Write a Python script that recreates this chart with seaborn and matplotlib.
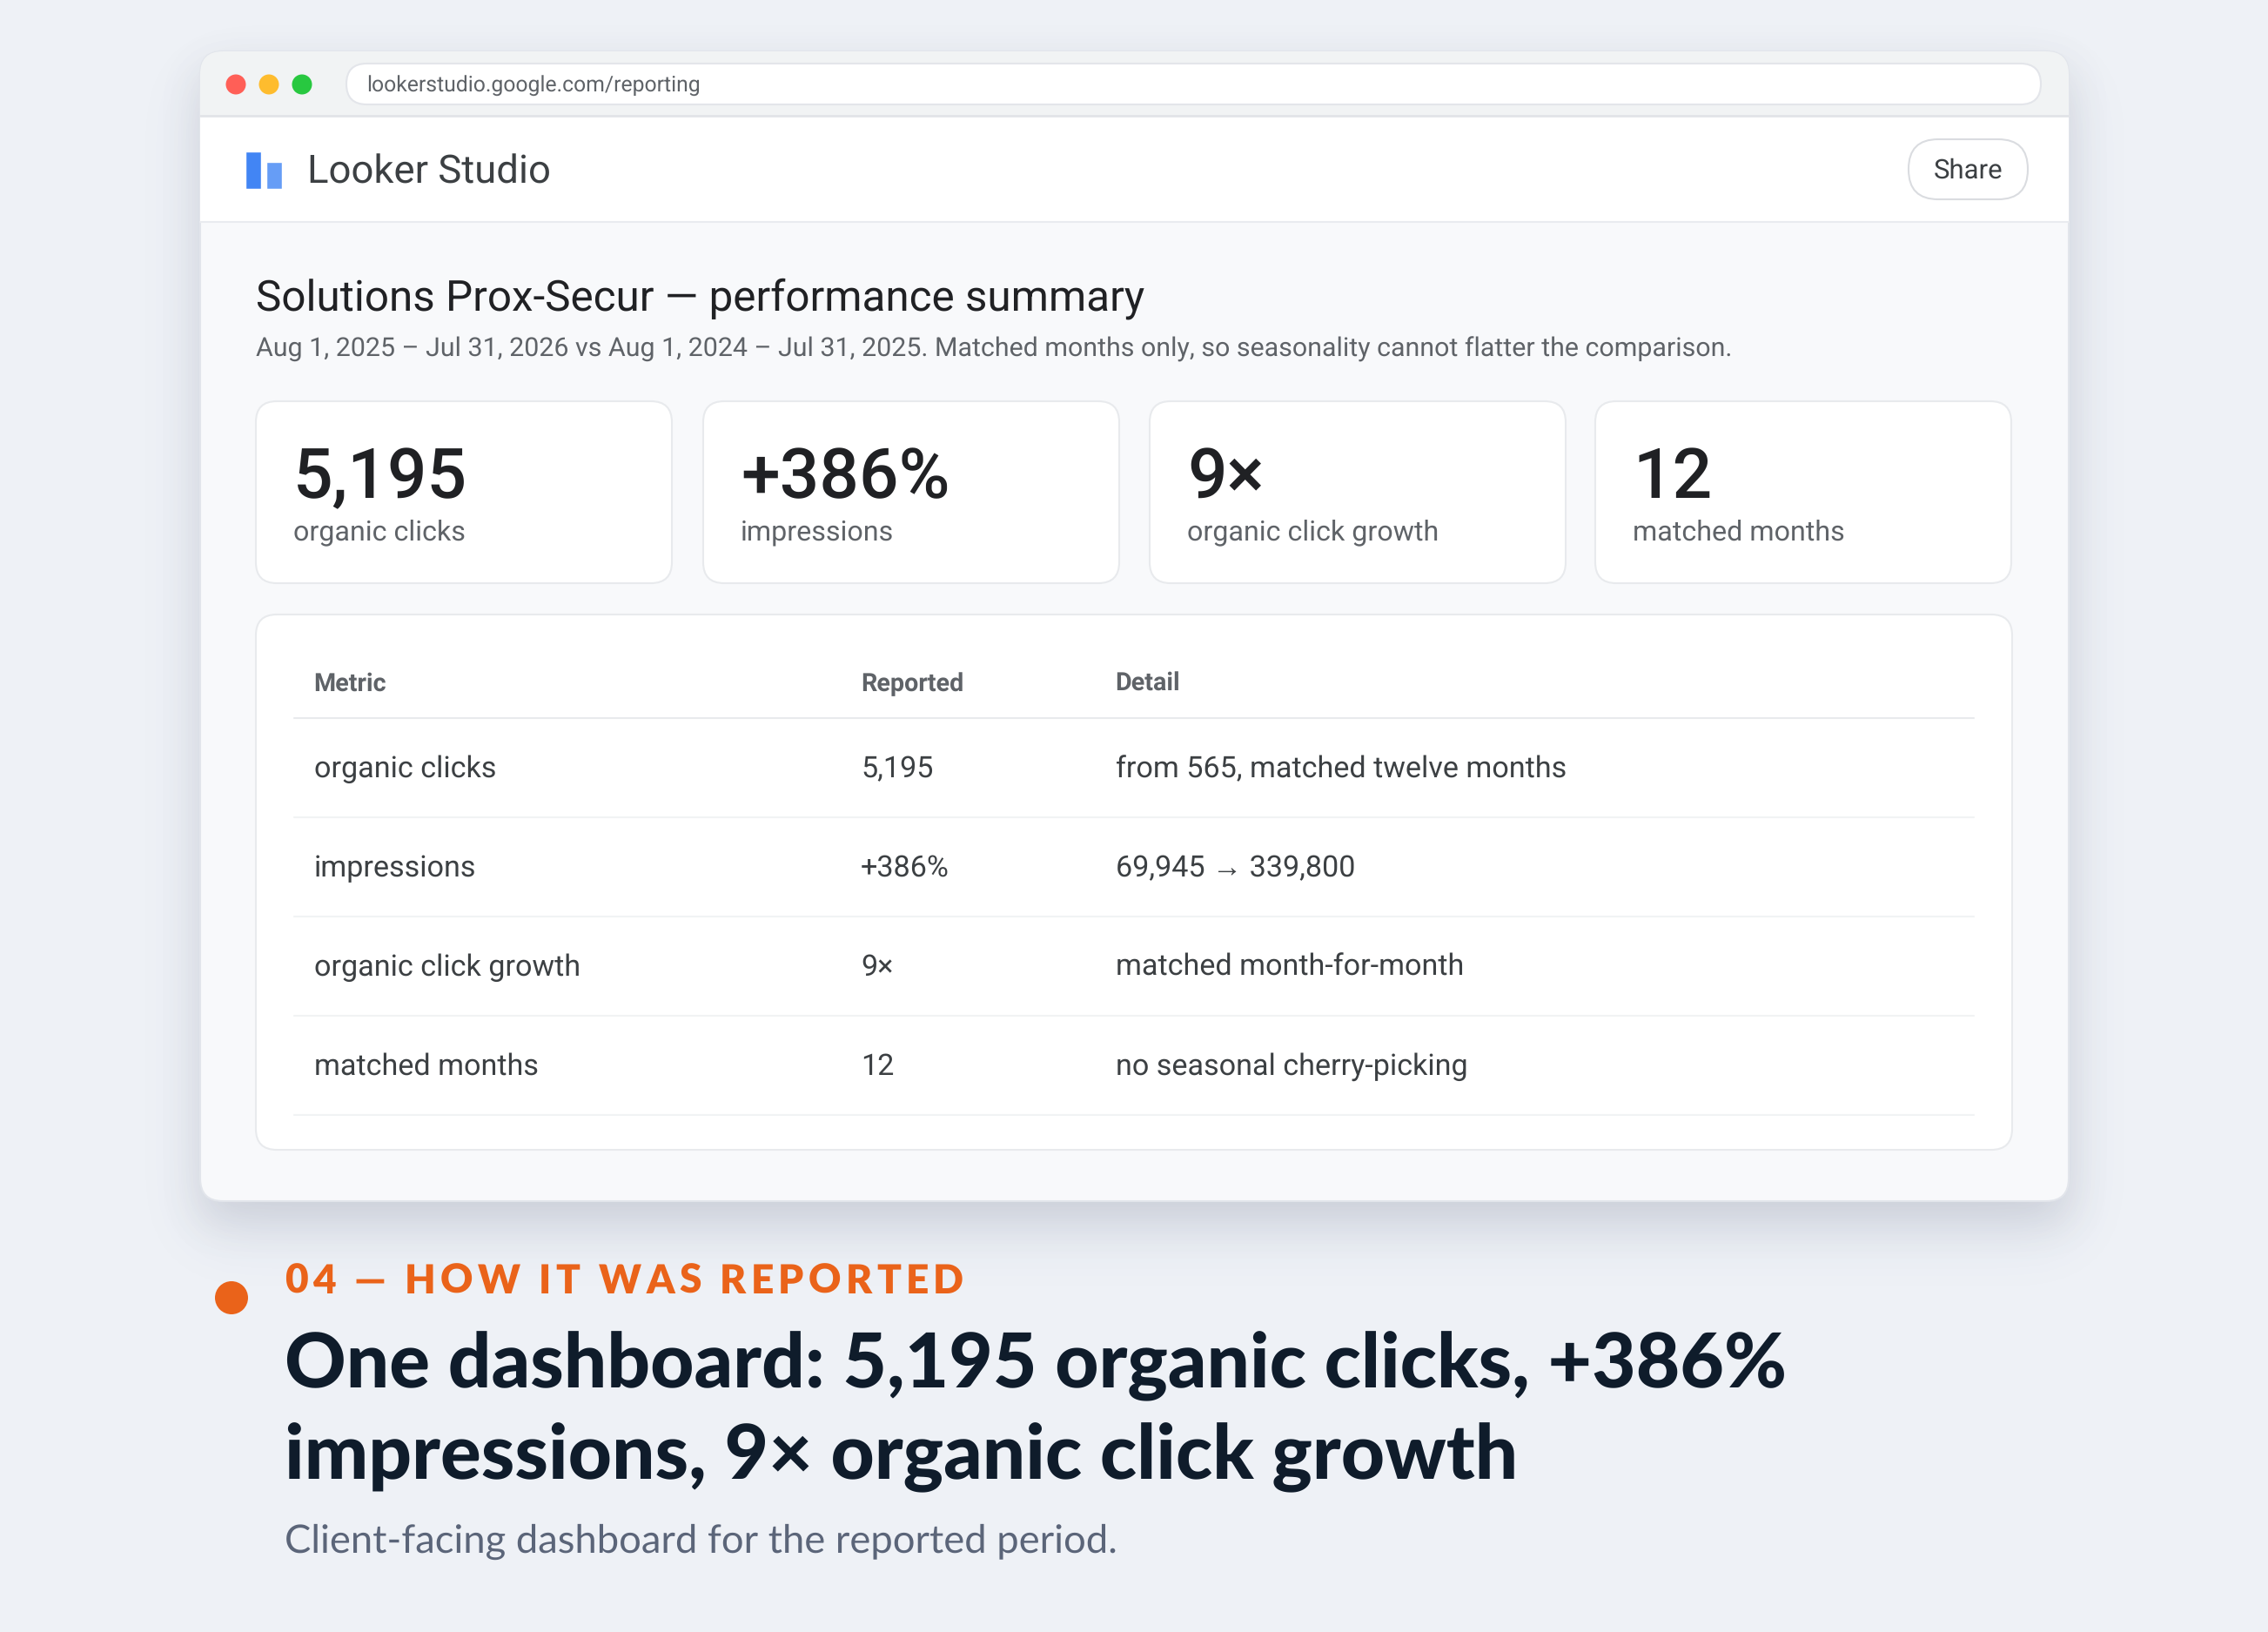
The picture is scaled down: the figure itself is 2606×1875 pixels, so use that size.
import numpy as np
import pandas as pd
import matplotlib
matplotlib.use("Agg")
import matplotlib.pyplot as plt
from matplotlib.patches import FancyBboxPatch, Rectangle, Circle
import seaborn as sns

W, H = 2606, 1875

url_text = "lookerstudio.google.com/reporting"
app_name = "Looker Studio"
share_label = "Share"
report_title = "Solutions Prox-Secur — performance summary"
report_sub = "Aug 1, 2025 – Jul 31, 2026 vs Aug 1, 2024 – Jul 31, 2025. Matched months only, so seasonality cannot flatter the comparison."

logo_names = ["a", "b"]
logo_heights = [43, 31]

kpi_values = ["5,195", "+386%", "9×", "12"]
kpi_labels = ["organic clicks", "impressions", "organic click growth", "matched months"]

table_head = ["Metric", "Reported", "Detail"]
table_metric = ["organic clicks", "impressions", "organic click growth", "matched months"]
table_reported = ["5,195", "+386%", "9×", "12"]
table_detail = ["from 565, matched twelve months", "69,945 → 339,800",
                "matched month-for-month", "no seasonal cherry-picking"]

kicker = "04 — HOW IT WAS REPORTED"
headline = ["One dashboard: 5,195 organic clicks, +386%", "impressions, 9× organic click growth"]
subline = "Client-facing dashboard for the reported period."

BG = "#EEF1F6"
ROBOTO = ["Roboto", "Liberation Serif", "DejaVu Sans"]
LATO = ["Lato", "DejaVu Sans"]


def px(size):
    return size * 0.72


def rbox(ax, x0, y0, x1, y1, r, fc, ec="none", lw=0, z=2):
    p = FancyBboxPatch((x0, y0), x1 - x0, y1 - y0, boxstyle=f"round,pad=0,rounding_size={r}",
                       fc=fc, ec=ec, lw=lw, zorder=z, mutation_aspect=1)
    ax.add_patch(p)
    return p


def txt(ax, x, y, s, size, color, weight="normal", family=ROBOTO, ha="left", z=5):
    return ax.text(x, y, s, fontsize=px(size), color=color, fontweight=weight, family=family,
                   ha=ha, va="baseline", zorder=z)


def shadow_layer(x0, y0, x1, y1, offset, sigma, alpha, rgb):
    yy, xx = np.mgrid[0:H, 0:W]
    mask = ((xx >= x0) & (xx <= x1) & (yy >= y0 + offset) & (yy <= y1 + offset)).astype(float)
    fy = np.fft.fftfreq(H)[:, None]
    fx = np.fft.rfftfreq(W)[None, :]
    kernel = np.exp(-2 * (np.pi * sigma) ** 2 * (fx ** 2 + fy ** 2))
    blurred = np.fft.irfft2(np.fft.rfft2(mask) * kernel, s=(H, W))
    rgba = np.zeros((H, W, 4))
    rgba[..., :3] = np.array(rgb) / 255
    rgba[..., 3] = np.clip(blurred, 0, 1) * alpha
    return rgba


sns.set_theme(style="white")
plt.rcParams["text.hinting"] = "no_hinting"
fig = plt.figure(figsize=(W / 100, H / 100), dpi=100, facecolor=BG)
ax = fig.add_axes([0, 0, 1, 1])
ax.set_facecolor(BG)
ax.imshow(shadow_layer(230, 58, 2377, 1380, 34, 36, 0.10, (40, 60, 130)), extent=(0, W, H, 0),
          aspect="auto", interpolation="nearest", zorder=1)
ax.imshow(shadow_layer(230, 58, 2377, 1380, 22, 24, 0.11, (70, 70, 70)), extent=(0, W, H, 0),
          aspect="auto", interpolation="nearest", zorder=1.1)
ax.set_xlim(0, W)
ax.set_ylim(H, 0)
ax.axis("off")

# browser window
win = rbox(ax, 230, 59, 2377, 1380, 26, "#F8F9FB", ec="#E2E5EB", lw=1.5)
chrome = Rectangle((230, 59), 2147, 75, fc="#F1F3F4", ec="none", zorder=2.1)
ax.add_patch(chrome)
chrome.set_clip_path(win)
header = Rectangle((230, 134), 2147, 121, fc="white", ec="none", zorder=2.1)
ax.add_patch(header)
ax.plot([230, 2377], [133, 133], color="#E2E4E8", lw=2, zorder=2.2)
ax.plot([230, 2377], [255, 255], color="#E9EBEF", lw=1.5, zorder=2.2)

for cx, col in zip([271, 309, 347], ["#FF5F57", "#FEBC2E", "#28C840"]):
    ax.add_patch(Circle((cx, 97), 11.5, fc=col, ec="none", zorder=3))
rbox(ax, 398, 73, 2345, 120, 23.5, "white", ec="#E3E5EA", lw=1.5, z=3)
txt(ax, 421, 105, url_text, 24.7, "#5F6368")

# logo bars through seaborn
logo_ax = fig.add_axes([279 / W, 1 - 217 / H, 48 / W, 43 / H])
sns.barplot(x=logo_names, y=logo_heights, hue=logo_names, palette=["#4285F4", "#669DF6"],
            width=0.79, saturation=1, legend=False, ax=logo_ax)
logo_ax.set_xlim(-0.5, 1.5)
logo_ax.set_ylim(0, 43)
logo_ax.axis("off")

txt(ax, 353, 211, app_name, 45.5, "#3C4043")
rbox(ax, 2193, 160, 2330, 229, 34, "white", ec="#DADCE0", lw=1.5, z=3)
txt(ax, 2262, 205, share_label, 31.2, "#3C4043", ha="center")

txt(ax, 294, 357, report_title, 49.4, "#202124")
txt(ax, 294, 410, report_sub, 30.4, "#5F6368")

# kpi cards
card_x = [294, 808, 1321, 1833]
for x0, val, lab in zip(card_x, kpi_values, kpi_labels):
    rbox(ax, x0, 461, x0 + 478, 670, 24, "white", ec="#E8EAED", lw=1.5, z=3)
    txt(ax, x0 + 43, 572, val, 80.2, "#202124", weight="medium")
    txt(ax, x0 + 43, 620.5, lab, 32.3, "#5F6368")

# table
rbox(ax, 294, 706, 2312, 1321, 24, "white", ec="#E8EAED", lw=1.5, z=3)
col_x = [361, 989, 1282]
head_x = [360, 989, 1281]
for x, s in zip(head_x, table_head):
    txt(ax, x, 794, s, 28.8, "#5F6368", weight="bold")
ax.plot([338, 2268], [825, 825], color="#E8EAED", lw=1.5, zorder=4)
table = pd.DataFrame({"metric": table_metric, "reported": table_reported, "detail": table_detail})
for i, row in table.iterrows():
    base = 893 + i * 114
    line_y = 939 + i * 114
    txt(ax, col_x[0], base, row["metric"], 34.1, "#3C4043")
    txt(ax, col_x[1], base, row["reported"], 34.1, "#3C4043")
    txt(ax, col_x[2], base, row["detail"], 34.1, "#3C4043")
    ax.plot([338, 2268], [line_y, line_y], color="#F1F3F4", lw=1.5, zorder=4)

# caption block
ax.add_patch(Circle((266, 1491), 19, fc="#EA631A", ec="none", zorder=5))
fig.canvas.draw()
rend = fig.canvas.get_renderer()
spacing = 5.3
bar = ax.text(0, 0, "|", fontsize=px(46), fontweight=800, family=LATO)
w_bar = bar.get_window_extent(rend).width
bar.remove()
for i, ch in enumerate(kicker):
    prefix = ax.text(0, 0, kicker[:i] + "|", fontsize=px(46), fontweight=800, family=LATO)
    w_pre = prefix.get_window_extent(rend).width
    prefix.remove()
    txt(ax, 327 + w_pre - w_bar + i * spacing, 1486, ch, 46, "#EA631A", weight=800, family=LATO)

txt(ax, 327, 1594, headline[0], 87.2, "#0F1C2B", weight=900, family=LATO)
txt(ax, 327, 1699, headline[1], 87.2, "#0F1C2B", weight=900, family=LATO)
txt(ax, 327, 1784, subline, 45.4, "#5B6579", family=LATO)

fig.savefig("out.png", dpi=100, facecolor=BG)
